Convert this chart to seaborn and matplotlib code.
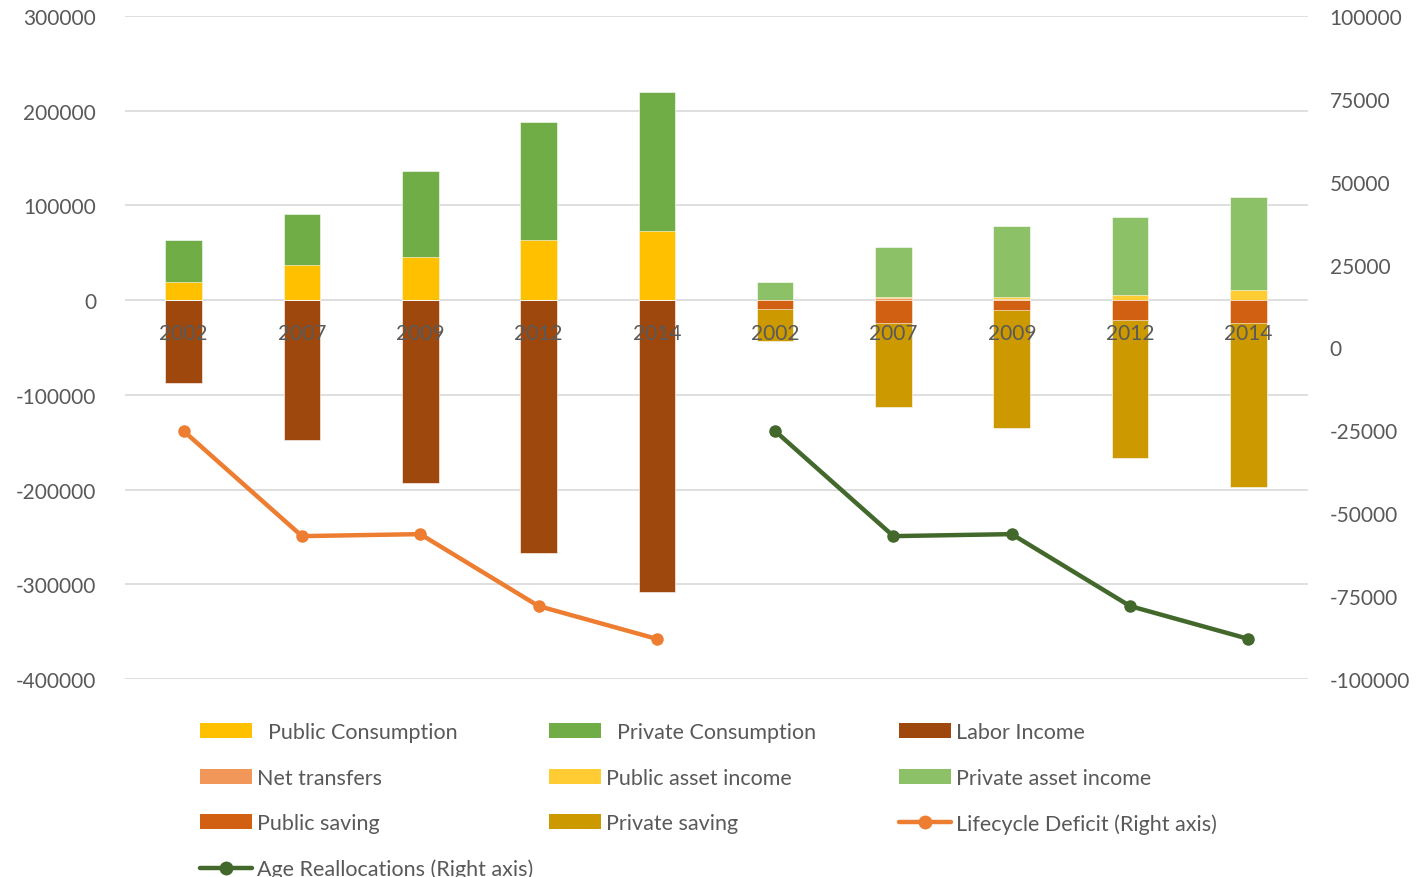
import matplotlib
matplotlib.use("Agg")
import matplotlib.pyplot as plt
import seaborn as sns
import pandas as pd
import numpy as np
from matplotlib.patches import Patch
from matplotlib.lines import Line2D

# ---------------- data ----------------
years = ["2002", "2007", "2009", "2012", "2014"]

# left group (bars, left axis)
public_consumption = [19400, 37500, 45900, 63900, 73400]
private_consumption = [43900, 53800, 90800, 124600, 146800]
labor_income = [-88000, -147300, -192700, -266600, -307800]

# right group (bars, left axis)
net_transfers = [300, 2500, 1500, 0, 0]
public_asset_income = [300, 500, 1800, 5600, 10200]
private_asset_income = [18400, 53100, 75300, 82000, 98200]
public_saving = [-9800, -24300, -10200, -21400, -24600]
private_saving = [-33800, -88700, -125200, -145000, -172400]

# lines (right axis)
lifecycle_deficit = [-25200, -56900, -56300, -78000, -87900]
age_reallocations = [-25200, -56900, -56300, -78000, -87900]

colors = {
    "Public Consumption": "#FFC000",
    "Private Consumption": "#70AD47",
    "Labor Income": "#9E480E",
    "Net transfers": "#F1975A",
    "Public asset income": "#FFCD33",
    "Private asset income": "#8CC168",
    "Public saving": "#D26012",
    "Private saving": "#CC9A00",
    "Lifecycle Deficit (Right axis)": "#ED7D31",
    "Age Reallocations (Right axis)": "#43682B",
}

cats = ["L" + y for y in years] + ["R" + y for y in years]
zeros = [0] * 5

def z(a, b):
    return list(a) + list(b)

df = pd.DataFrame({
    "cat": cats,
    "Public Consumption": z(public_consumption, zeros),
    "Private Consumption": z(private_consumption, zeros),
    "Labor Income": z(labor_income, zeros),
    "Net transfers": z(zeros, net_transfers),
    "Public asset income": z(zeros, public_asset_income),
    "Private asset income": z(zeros, private_asset_income),
    "Public saving": z(zeros, public_saving),
    "Private saving": z(zeros, private_saving),
})

# ---------------- figure ----------------
sns.set_theme(style="white")
FONT = ["Lato", "DejaVu Sans"]
plt.rcParams["font.family"] = FONT
GRAY = "#595959"
TICK_FS = 15

fig = plt.figure(figsize=(14.22, 8.78), dpi=100)
W, H = 1422, 878
ax = fig.add_axes([124.5 / W, 1 - 680 / H, (1307.5 - 124.5) / W, (680 - 17) / H])

def draw_stack(order):
    cum = np.zeros(len(df))
    layers = []
    for name in order:
        cum = cum + df[name].to_numpy()
        layers.append((name, cum.copy()))
    for name, vals in reversed(layers):
        d = pd.DataFrame({"cat": cats, "v": vals})
        sns.barplot(data=d, x="cat", y="v", order=cats, color=colors[name],
                    saturation=1, width=0.31, errorbar=None, ax=ax,
                    edgecolor="white", linewidth=0.4, zorder=2)

draw_stack(["Public Consumption", "Private Consumption"])
draw_stack(["Net transfers", "Public asset income", "Private asset income"])
draw_stack(["Labor Income"])
draw_stack(["Public saving", "Private saving"])

ax.set_ylim(-400000, 300000)
ax.set_yticks(np.arange(-400000, 300001, 100000))
ax.set_yticklabels([str(v) for v in range(-400000, 300001, 100000)])
ax.set_xlim(-0.5, 9.5)
ax.set_xlabel("")
ax.set_ylabel("")
ax.grid(axis="y", color="#D9D9D9", linewidth=1.2)
ax.grid(axis="x", visible=False)
for s in ax.spines.values():
    s.set_visible(False)
ax.spines["bottom"].set_position(("data", 0))
ax.set_xticks(range(10))
ax.set_xticklabels(years * 2)
ax.tick_params(axis="x", length=0, pad=16.5, labelsize=TICK_FS, labelcolor=GRAY)
ax.tick_params(axis="y", length=0, pad=20.5, labelsize=TICK_FS, labelcolor=GRAY)
# gridlines behind bars, category labels above bars
ax.yaxis.set_zorder(0.5)
ax.xaxis.set_zorder(3)

# ---------------- lines on right axis ----------------
ax2 = ax.twinx()
ldf = pd.DataFrame({"x": list(range(0, 5)), "v": lifecycle_deficit})
adf = pd.DataFrame({"x": list(range(5, 10)), "v": age_reallocations})
sns.lineplot(data=ldf, x="x", y="v", ax=ax2, color=colors["Lifecycle Deficit (Right axis)"],
             linewidth=3.2, marker="o", markersize=9, markeredgewidth=0)
sns.lineplot(data=adf, x="x", y="v", ax=ax2, color=colors["Age Reallocations (Right axis)"],
             linewidth=3.2, marker="o", markersize=9, markeredgewidth=0)
ax2.set_ylim(-100000, 100000)
ax2.set_yticks(np.arange(-100000, 100001, 25000))
ax2.set_yticklabels([str(v) for v in range(-100000, 100001, 25000)])
ax2.set_xlim(-0.5, 9.5)
ax2.set_xlabel("")
ax2.set_ylabel("")
ax2.grid(False)
for s in ax2.spines.values():
    s.set_visible(False)
ax2.tick_params(axis="y", length=0, pad=16, labelsize=TICK_FS, labelcolor=GRAY)

# ---------------- legend (row-major, 3 columns) ----------------
def patch(name):
    return Patch(facecolor=colors[name], edgecolor="none")

def line(name):
    return Line2D([0], [0], color=colors[name], linewidth=3.2, marker="o",
                  markersize=10, markeredgewidth=0)

columns = [
    [(patch("Public Consumption"), "  Public Consumption"),
     (patch("Net transfers"), "Net transfers"),
     (patch("Public saving"), "Public saving"),
     (line("Age Reallocations (Right axis)"), "Age Reallocations (Right axis)")],
    [(patch("Private Consumption"), "  Private Consumption"),
     (patch("Public asset income"), "Public asset income"),
     (patch("Private saving"), "Private saving")],
    [(patch("Labor Income"), "Labor Income"),
     (patch("Private asset income"), "Private asset income"),
     (line("Lifecycle Deficit (Right axis)"), "Lifecycle Deficit (Right axis)")],
]
LEG_FS = 15.5
col_x = [200, 549, 899]
for cx, items in zip(col_x, columns):
    fig.legend([h for h, _ in items], [t for _, t in items],
               loc="upper left", bbox_to_anchor=(cx / W, 1 - 723 / H),
               frameon=False, fontsize=LEG_FS, labelcolor=GRAY,
               handlelength=2.4, handleheight=0.7, handletextpad=0.25,
               labelspacing=1.19, borderpad=0, borderaxespad=0)

fig.savefig("out.png", dpi=100)
